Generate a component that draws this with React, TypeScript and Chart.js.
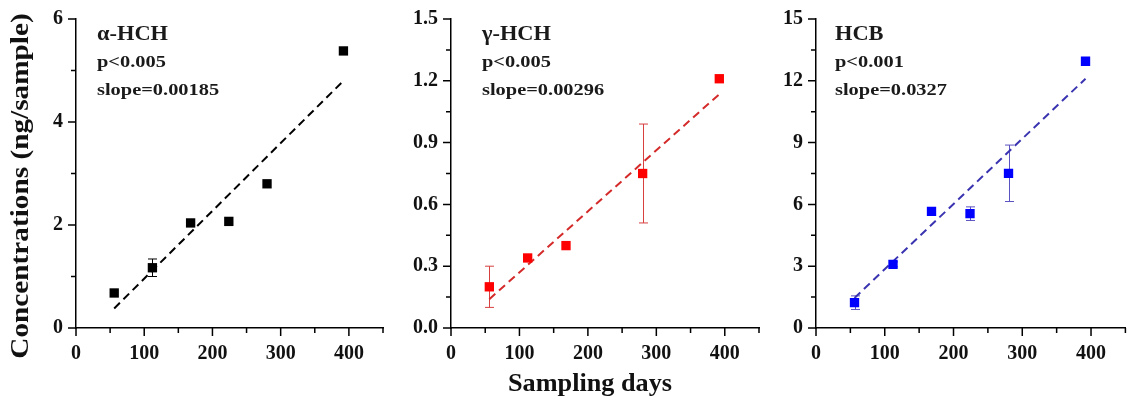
import React, { useEffect, useRef } from 'react';
import { Chart, registerables } from 'chart.js';

Chart.register(...registerables);

// ---------- data ----------
const xTickValues = [0, 100, 200, 300, 400];
const xTickLabels = ['0', '100', '200', '300', '400'];

const ahchDays = [56, 112, 168, 224, 280, 392];
const ahchValues = [0.68, 1.17, 2.04, 2.07, 2.8, 5.38];
const ahchErrors = [0, 0.17, 0, 0, 0, 0];
const ahchFitDays = [56, 392];
const ahchFitValues = [0.38, 4.8];
const ahchYTicks = [0, 2, 4, 6];
const ahchYLabels = ['0', '2', '4', '6'];

const ghchDays = [56, 112, 168, 280, 392];
const ghchValues = [0.2, 0.34, 0.4, 0.75, 1.21];
const ghchErrors = [0.1, 0, 0, 0.24, 0];
const ghchFitDays = [56, 392];
const ghchFitValues = [0.14, 1.135];
const ghchYTicks = [0, 0.3, 0.6, 0.9, 1.2, 1.5];
const ghchYLabels = ['0.0', '0.3', '0.6', '0.9', '1.2', '1.5'];

const hcbDays = [56, 112, 168, 224, 280, 392];
const hcbValues = [1.23, 3.09, 5.66, 5.55, 7.51, 12.95];
const hcbErrors = [0.33, 0.12, 0, 0.33, 1.37, 0];
const hcbFitDays = [56, 392];
const hcbFitValues = [1.46, 12.1];
const hcbYTicks = [0, 3, 6, 9, 12, 15];
const hcbYLabels = ['0', '3', '6', '9', '12', '15'];

const panelNames = ['α-HCH', 'γ-HCH', 'HCB'];
const panelPTexts = ['p<0.005', 'p<0.005', 'p<0.001'];
const panelSlopeTexts = ['slope=0.00185', 'slope=0.00296', 'slope=0.0327'];

const yTitle = 'Concentrations (ng/sample)';
const xTitle = 'Sampling days';

// ---------- layout / style ----------
const FONT = '"Liberation Serif", "Times New Roman", serif';
const CANVAS_H = 403;
const AREA_TOP = 19;
const AREA_BOTTOM = 328;

type Panel = {
  left: number;
  width: number;
  yAxisWidth: number;
  padRight: number;
  days: number[];
  values: number[];
  errors: number[];
  fitDays: number[];
  fitValues: number[];
  yMax: number;
  yStep: number;
  yTicks: number[];
  yLabels: string[];
  color: string;
  fitColor: string;
  errColor: string;
  name: string;
  pText: string;
  slopeText: string;
  textX: number;
  drawYTitle?: boolean;
  drawXTitle?: boolean;
};

const panels: Panel[] = [
  {
    left: 0, width: 390, yAxisWidth: 76, padRight: 7,
    days: ahchDays, values: ahchValues, errors: ahchErrors,
    fitDays: ahchFitDays, fitValues: ahchFitValues,
    yMax: 6, yStep: 1, yTicks: ahchYTicks, yLabels: ahchYLabels,
    color: '#000000', fitColor: '#000000', errColor: '#000000',
    name: panelNames[0], pText: panelPTexts[0], slopeText: panelSlopeTexts[0],
    textX: 97, drawYTitle: true,
  },
  {
    left: 390, width: 380, yAxisWidth: 61, padRight: 11,
    days: ghchDays, values: ghchValues, errors: ghchErrors,
    fitDays: ghchFitDays, fitValues: ghchFitValues,
    yMax: 1.5, yStep: 0.15, yTicks: ghchYTicks, yLabels: ghchYLabels,
    color: '#ff0000', fitColor: '#d42a2a', errColor: '#d84040',
    name: panelNames[1], pText: panelPTexts[1], slopeText: panelSlopeTexts[1],
    textX: 92, drawXTitle: true,
  },
  {
    left: 770, width: 362, yAxisWidth: 46, padRight: 2,
    days: hcbDays, values: hcbValues, errors: hcbErrors,
    fitDays: hcbFitDays, fitValues: hcbFitValues,
    yMax: 15, yStep: 1.5, yTicks: hcbYTicks, yLabels: hcbYLabels,
    color: '#0000ff', fitColor: '#3a34b0', errColor: '#5a52c0',
    name: panelNames[2], pText: panelPTexts[2], slopeText: panelSlopeTexts[2],
    textX: 65,
  },
];

function findIndex(list: number[], v: number): number {
  for (let i = 0; i < list.length; i++) {
    if (Math.abs(list[i] - v) < 1e-6) return i;
  }
  return -1;
}

function makePlugin(p: Panel) {
  return {
    id: 'panelDecor',
    beforeDatasetsDraw(chart: any) {
      const ctx = chart.ctx;
      const xs = chart.scales.x;
      const ys = chart.scales.y;
      ctx.save();
      ctx.strokeStyle = p.errColor;
      ctx.lineWidth = 1;
      p.days.forEach((d, i) => {
        const e = p.errors[i];
        if (!e) return;
        const x = Math.round(xs.getPixelForValue(d)) + 0.5;
        const y1 = ys.getPixelForValue(p.values[i] + e);
        const y2 = ys.getPixelForValue(p.values[i] - e);
        ctx.beginPath();
        ctx.moveTo(x, y1);
        ctx.lineTo(x, y2);
        ctx.moveTo(x - 4.5, y1);
        ctx.lineTo(x + 4.5, y1);
        ctx.moveTo(x - 4.5, y2);
        ctx.lineTo(x + 4.5, y2);
        ctx.stroke();
      });
      ctx.restore();
    },
    afterDraw(chart: any) {
      const ctx = chart.ctx;
      const xs = chart.scales.x;
      const ys = chart.scales.y;
      const area = chart.chartArea;
      ctx.save();
      // tick marks
      ctx.strokeStyle = '#000';
      ctx.lineWidth = 1.5;
      ctx.beginPath();
      xs.ticks.forEach((t: any) => {
        const major = findIndex(xTickValues, t.value) >= 0 || Math.abs(t.value % 100) < 1e-6;
        const x = xs.getPixelForValue(t.value);
        ctx.moveTo(x, area.bottom);
        ctx.lineTo(x, area.bottom + (major ? 8 : 5));
      });
      ys.ticks.forEach((t: any) => {
        const major = findIndex(p.yTicks, t.value) >= 0;
        const y = ys.getPixelForValue(t.value);
        ctx.moveTo(area.left, y);
        ctx.lineTo(area.left - (major ? 8 : 5), y);
      });
      ctx.stroke();

      // annotations
      ctx.fillStyle = '#1a1a1a';
      ctx.textBaseline = 'alphabetic';
      ctx.textAlign = 'left';
      const drawScaled = (text: string, x: number, y: number, size: number, sx: number) => {
        ctx.save();
        ctx.translate(x, y);
        ctx.scale(sx, 1);
        ctx.font = `bold ${size}px ${FONT}`;
        ctx.fillText(text, 0, 0);
        ctx.restore();
      };
      drawScaled(p.name, p.textX, 40, 20, 1.12);
      drawScaled(p.pText, p.textX, 67, 17, 1.2);
      drawScaled(p.slopeText, p.textX, 95, 17, 1.2);

      if (p.drawYTitle) {
        ctx.save();
        ctx.translate(22, 186);
        ctx.rotate(-Math.PI / 2);
        ctx.scale(1.17, 1);
        ctx.font = `bold 25px ${FONT}`;
        ctx.textAlign = 'center';
        ctx.textBaseline = 'middle';
        ctx.fillStyle = '#111';
        ctx.fillText(yTitle, 0, 0);
        ctx.restore();
      }
      if (p.drawXTitle) {
        ctx.save();
        ctx.translate(200, 385);
        ctx.scale(1.05, 1);
        ctx.font = `bold 25px ${FONT}`;
        ctx.textAlign = 'center';
        ctx.textBaseline = 'middle';
        ctx.fillStyle = '#111';
        ctx.fillText(xTitle, 0, 0);
        ctx.restore();
      }
      ctx.restore();
    },
  };
}

function PanelChart({ p }: { p: Panel }) {
  const ref = useRef<HTMLCanvasElement | null>(null);
  useEffect(() => {
    if (!ref.current) return;
    const chart = new Chart(ref.current, {
      type: 'scatter',
      data: {
        datasets: [
          {
            data: p.days.map((d, i) => ({ x: d, y: p.values[i] })),
            pointStyle: 'rect',
            pointRadius: 6.6,
            pointHoverRadius: 6.6,
            backgroundColor: p.color,
            borderColor: p.color,
            borderWidth: 0,
            order: 1,
          },
          {
            data: p.fitDays.map((d, i) => ({ x: d, y: p.fitValues[i] })),
            showLine: true,
            pointRadius: 0,
            borderColor: p.fitColor,
            borderWidth: 2,
            borderDash: [8, 5],
            order: 2,
          } as any,
        ],
      },
      options: {
        responsive: false,
        animation: false,
        events: [],
        layout: { padding: { top: AREA_TOP, right: p.padRight, left: 0, bottom: 0 } },
        plugins: { legend: { display: false }, tooltip: { enabled: false } },
        scales: {
          x: {
            type: 'linear',
            min: 0,
            max: 450,
            afterFit: (s: any) => { s.height = CANVAS_H - AREA_BOTTOM; },
            border: { display: true, color: '#000', width: 1.5 },
            grid: { display: true, drawOnChartArea: false, drawTicks: true, tickLength: 8, color: 'rgba(0,0,0,0)' },
            ticks: {
              stepSize: 50,
              autoSkip: false,
              maxRotation: 0,
              padding: 6,
              color: '#111',
              font: { family: FONT, size: 20, weight: 'bold' },
              callback: (v: any) => {
                const i = findIndex(xTickValues, Number(v));
                return i >= 0 ? xTickLabels[i] : '';
              },
            },
          },
          y: {
            type: 'linear',
            min: 0,
            max: p.yMax,
            afterFit: (s: any) => { s.width = p.yAxisWidth; },
            border: { display: true, color: '#000', width: 1.5 },
            grid: { display: true, drawOnChartArea: false, drawTicks: true, tickLength: 8, color: 'rgba(0,0,0,0)' },
            ticks: {
              stepSize: p.yStep,
              autoSkip: false,
              padding: 5,
              color: '#111',
              font: { family: FONT, size: 20, weight: 'bold' },
              callback: (v: any) => {
                const i = findIndex(p.yTicks, Number(v));
                return i >= 0 ? p.yLabels[i] : '';
              },
            },
          },
        },
      } as any,
      plugins: [makePlugin(p)],
    });
    return () => chart.destroy();
  }, [p]);
  return (
    <canvas
      ref={ref}
      width={p.width}
      height={CANVAS_H}
      style={{ position: 'absolute', left: p.left, top: 0, width: p.width, height: CANVAS_H }}
    />
  );
}

export default function App() {
  return (
    <div style={{ position: 'absolute', left: 0, top: 0, width: 1132, height: CANVAS_H, background: '#fff', overflow: 'hidden' }}>
      {panels.map((p, i) => (
        <PanelChart key={i} p={p} />
      ))}
    </div>
  );
}
